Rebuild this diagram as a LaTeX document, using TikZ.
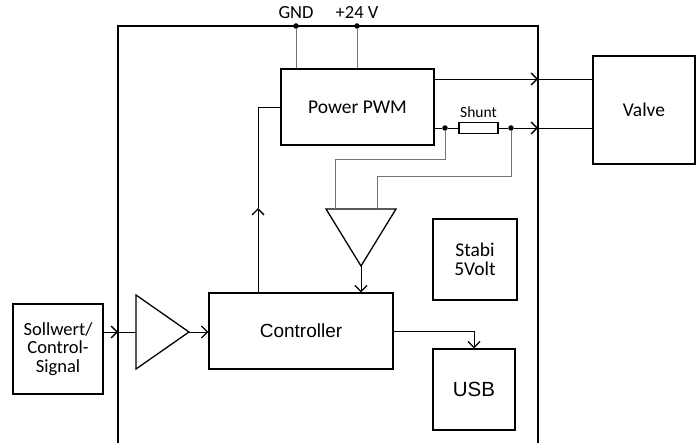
\documentclass[tikz,border=0pt]{standalone}
\usepackage{fontspec}
\setmainfont{Carlito}
\newfontfamily\arialfont{Liberation Sans}
\usetikzlibrary{arrows.meta}

\tikzset{
    block/.style={draw, line width=1.3pt, inner sep=0pt, align=center, font=\fontsize{19.5}{19}\selectfont},
    wire/.style={line width=0.8pt},
    grey wire/.style={line width=0.9pt, draw=black!55},
    dot/.style={circle, fill, inner sep=0pt, minimum size=5.5pt},
    >={Straight Barb[length=6pt,width=12pt,line width=1.3pt]}
}

\begin{document}
\begin{tikzpicture}[x=1pt,y=-1pt]
    \useasboundingbox (0,0) rectangle (696,443);

    \draw[line width=1.3pt] (118,460) -- (118,26) -- (538,26) -- (538,460);

    \node[block, minimum width=153pt, minimum height=76pt] (pwm) at (357.5,107) {Power PWM};
    \node[block, minimum width=102pt, minimum height=108pt] (valve) at (644,110) {Valve};
    \node[block, minimum width=184pt, minimum height=76pt, font=\arialfont\fontsize{19}{19}\selectfont] (ctrl) at (301,331) {Controller};
    \node[block, minimum width=82pt, minimum height=81pt, font=\arialfont\fontsize{20.5}{20}\selectfont] (usb) at (474,389.5) {USB};
    \node[block, minimum width=84pt, minimum height=81pt] (stabi) at (475,259.5) {Stabi\\5Volt};
    \node[block, minimum width=90pt, minimum height=90pt, font=\fontsize{18.5}{18.5}\selectfont] (soll) at (58,349) {Sollwert/\\Control-\\Signal};
    \node[draw, line width=1.1pt, minimum width=39pt, minimum height=11pt, inner sep=0pt] (shunt) at (478.5,128) {};
    \node[above=0.5pt, font=\fontsize{15.5}{15.5}\selectfont] at (shunt.north) {Shunt};

    \node[dot] (gnd) at (296,26) {};
    \node[dot] (vcc) at (357,26) {};
    \node[above=1pt, font=\fontsize{18.5}{18.5}\selectfont] at (gnd.north) {GND};
    \node[above=1pt, font=\fontsize{18.5}{18.5}\selectfont] at (vcc.north) {+24 V};
    \draw[grey wire] (gnd) -- (gnd |- pwm.north);
    \draw[grey wire] (vcc) -- (vcc |- pwm.north);

    \coordinate (o1) at (538,79);
    \coordinate (o2) at (538,128);
    \node[dot] (d1) at (445,128) {};
    \node[dot] (d2) at (511,128) {};
    \draw[wire, ->] (pwm.east |- o1) -- (o1);
    \draw[wire] (o1) -- (valve.west |- o1);
    \draw[wire] (pwm.east |- o2) -- (d1) -- (shunt.west);
    \draw[wire, ->] (shunt.east) -- (d2) -- (o2);
    \draw[wire] (o2) -- (valve.west |- o2);

    \coordinate (sa) at (335,209);
    \coordinate (sb) at (377,209);
    \coordinate (sout) at (361,266);
    \draw[line width=1.3pt] (326,209) -- (396,209) -- (sout) -- cycle;
    \draw[grey wire] (d1) -- (445,159) -| (sa);
    \draw[grey wire] (d2) -- (511,176) -| (sb);
    \draw[wire, ->] (sout) -- (ctrl.north -| sout);

    \coordinate (up) at (258,208);
    \draw[wire, ->] (ctrl.north -| up) -- (up);
    \draw[wire] (up) |- (pwm.west);

    \draw[wire, ->] (ctrl.east) -| (usb.north);

    \coordinate (inl) at (118,332);
    \coordinate (ain) at (136,332);
    \coordinate (aout) at (189,332);
    \draw[line width=1.3pt] (136,295) -- (aout) -- (136,369) -- cycle;
    \draw[wire, ->] (soll.east |- inl) -- (inl);
    \draw[wire] (inl) -- (ain);
    \draw[wire, ->] (aout) -- (ctrl.west |- aout);
\end{tikzpicture}
\end{document}
